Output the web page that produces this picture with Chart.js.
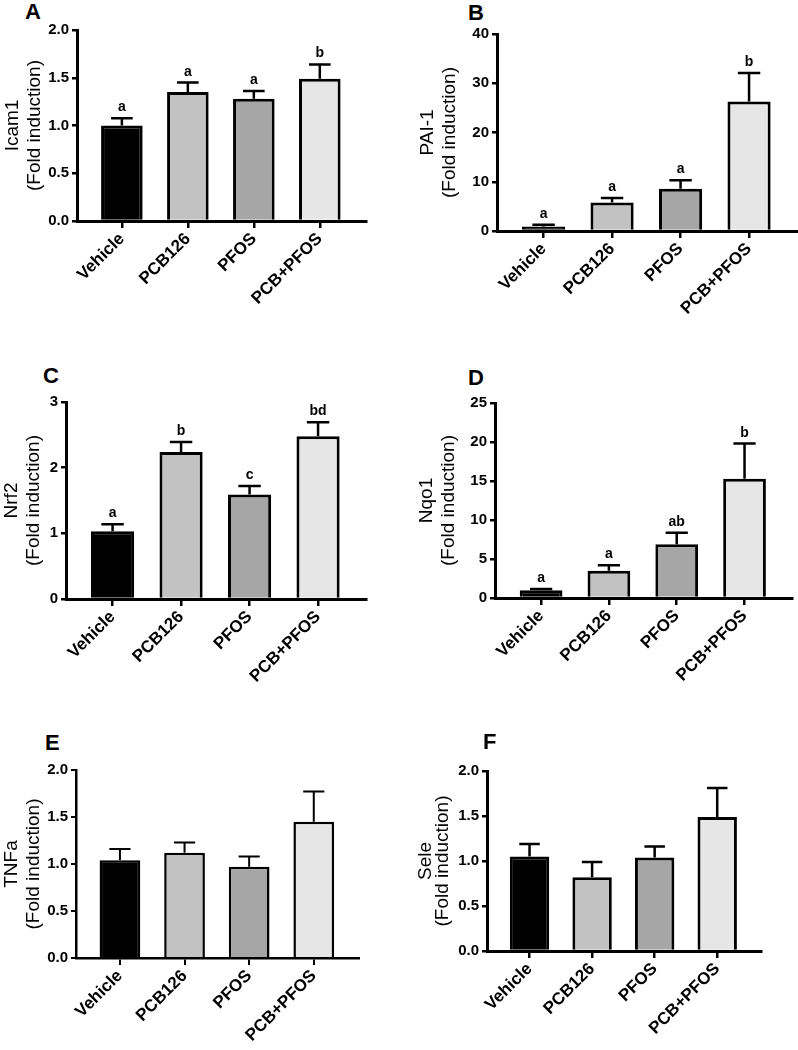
<!DOCTYPE html>
<html>
<head>
<meta charset="utf-8">
<script src="https://cdn.jsdelivr.net/npm/chart.js@4.4.1/dist/chart.umd.min.js"></script>
<style>
  body { margin: 0; background: #fff; width: 798px; height: 1050px; position: relative; overflow: hidden; font-family: "Liberation Sans", Arial, sans-serif; }
  canvas { position: absolute; }
  .letra { position: absolute; font-weight: bold; font-size: 22px; line-height: 22px; color: #000; }
</style>
</head>
<body>
<script>
  // dados
  var grupos = ['Vehicle', 'PCB126', 'PFOS', 'PCB+PFOS']
  var cores = ['#000000', '#c2c2c2', '#a6a6a6', '#e6e6e6']

  var icam1 = [1.00, 1.35, 1.28, 1.49]
  var icam1_erro = [0.075, 0.10, 0.08, 0.15]
  var icam1_letras = ['a', 'a', 'a', 'b']

  var pai1 = [0.9, 5.8, 8.6, 26.3]
  var pai1_erro = [0.35, 0.9, 1.7, 5.8]
  var pai1_letras = ['a', 'a', 'a', 'b']

  var nrf2 = [1.03, 2.24, 1.59, 2.48]
  var nrf2_erro = [0.11, 0.15, 0.13, 0.21]
  var nrf2_letras = ['a', 'b', 'c', 'bd']

  var nqo1 = [1.0, 3.5, 6.9, 15.3]
  var nqo1_erro = [0.15, 0.7, 1.45, 4.5]
  var nqo1_letras = ['a', 'a', 'ab', 'b']

  var tnfa = [1.04, 1.12, 0.97, 1.45]
  var tnfa_erro = [0.12, 0.11, 0.11, 0.32]

  var sele = [1.05, 0.82, 1.04, 1.49]
  var sele_erro = [0.14, 0.17, 0.12, 0.32]

  var fonte = '"Liberation Sans", Arial, sans-serif'

  // caixa do canvas [x, y, w, h] e area do grafico [esq, topo, dir, base]
  var paineis = [
    { letra: 'A', pos: [25, 1], canvas: [0, 0, 399, 360], area: [77, 30, 366, 221], nome: 'Icam1', media: icam1, erro: icam1_erro, letras: icam1_letras, max: 2, passo: 0.5, casas: 1, tPad: 1, tLinha: 1.2, linha: 2.5 },
    { letra: 'B', pos: [468, 2], canvas: [399, 0, 399, 360], area: [497, 34, 797, 231], nome: 'PAI-1', media: pai1, erro: pai1_erro, letras: pai1_letras, max: 40, passo: 10, casas: 0, tPad: 17, tLinha: 1.2, linha: 2.5 },
    { letra: 'C', pos: [43, 365], canvas: [0, 360, 399, 370], area: [66, 402, 366, 599], nome: 'Nrf2', media: nrf2, erro: nrf2_erro, letras: nrf2_letras, max: 3, passo: 1, casas: 0, tPad: 0, tLinha: 1.2, linha: 2.5 },
    { letra: 'D', pos: [468, 367], canvas: [399, 360, 399, 370], area: [495, 403, 792, 598], nome: 'Nqo1', media: nqo1, erro: nqo1_erro, letras: nqo1_letras, max: 25, passo: 5, casas: 0, tPad: 16, tLinha: 1.2, linha: 2.5 },
    { letra: 'E', pos: [45, 732], canvas: [0, 730, 399, 320], area: [76, 770, 359, 958], nome: 'TNFa', media: tnfa, erro: tnfa_erro, letras: null, max: 2, passo: 0.5, casas: 1, tPad: 0, tLinha: 1.2, linha: 2 },
    { letra: 'F', pos: [483, 731], canvas: [399, 730, 399, 320], area: [487, 771, 761, 951], nome: 'Sele', media: sele, erro: sele_erro, letras: null, max: 2, passo: 0.5, casas: 1, tPad: 18, tLinha: 0.9, linha: 2.5 }
  ]

  // barras de erro (so para cima) e letras de significancia
  const barrasErro = {
    id: 'barrasErro',
    afterDatasetsDraw(chart) {
      const ctx = chart.ctx
      const ds = chart.data.datasets[0]
      const escalaY = chart.scales.y
      chart.getDatasetMeta(0).data.forEach(function (bar, i) {
        var yTopo = escalaY.getPixelForValue(ds.media[i] + ds.erro[i])
        var meia = bar.width * 0.26
        ctx.save()
        ctx.strokeStyle = '#000'
        ctx.lineWidth = ds.linhaErro
        ctx.beginPath()
        ctx.moveTo(bar.x, bar.y)
        ctx.lineTo(bar.x, yTopo)
        ctx.moveTo(bar.x - meia, yTopo)
        ctx.lineTo(bar.x + meia, yTopo)
        ctx.stroke()
        if (ds.letras) {
          ctx.fillStyle = '#000'
          ctx.font = 'bold 14px ' + fonte
          ctx.textAlign = 'center'
          ctx.textBaseline = 'alphabetic'
          ctx.fillText(ds.letras[i], bar.x, yTopo - 7)
        }
        ctx.restore()
      })
    }
  }

  paineis.forEach(function (p) {
    var tag = document.createElement('div')
    tag.className = 'letra'
    tag.style.left = p.pos[0] + 'px'
    tag.style.top = p.pos[1] + 'px'
    tag.textContent = p.letra
    document.body.appendChild(tag)

    var cv = document.createElement('canvas')
    cv.width = p.canvas[2]
    cv.height = p.canvas[3]
    cv.style.left = p.canvas[0] + 'px'
    cv.style.top = p.canvas[1] + 'px'
    document.body.appendChild(cv)

    var larguraY = p.area[0] - p.canvas[0]
    var alturaX = p.canvas[1] + p.canvas[3] - p.area[3]

    new Chart(cv, {
      type: 'bar',
      data: {
        datasets: [{
          data: p.media.map(function (v, i) { return { x: i, y: v } }),
          backgroundColor: cores,
          borderColor: '#000',
          borderWidth: p.linha + 0.5,
          barPercentage: 0.63,
          categoryPercentage: 1,
          media: p.media,
          erro: p.erro,
          letras: p.letras,
          linhaErro: p.linha
        }]
      },
      options: {
        responsive: false,
        animation: false,
        layout: {
          padding: { left: 0, top: p.area[1] - p.canvas[1], right: p.canvas[0] + p.canvas[2] - p.area[2], bottom: 0 }
        },
        plugins: { legend: { display: false }, tooltip: { enabled: false } },
        scales: {
          x: {
            type: 'linear',
            offset: false,
            min: -0.68,
            max: 3.7,
            afterBuildTicks: function (s) { s.ticks = grupos.map(function (g, i) { return { value: i } }) },
            afterFit: function (s) { s.height = alturaX },
            ticks: {
              autoSkip: false,
              minRotation: 45,
              maxRotation: 45,
              padding: 1,
              color: '#000',
              font: { family: fonte, size: 17, weight: 'bold' },
              callback: function (v) { return grupos[v] }
            },
            grid: { offset: false, drawOnChartArea: false, drawTicks: true, tickLength: 7, color: '#000', lineWidth: p.linha },
            border: { display: true, color: '#000', width: p.linha + 0.5 }
          },
          y: {
            min: 0,
            max: p.max,
            afterFit: function (s) { s.width = larguraY },
            ticks: {
              stepSize: p.passo,
              padding: 3,
              color: '#000',
              font: { family: fonte, size: 15, weight: 'bold' },
              callback: function (v) { return v.toFixed(p.casas) }
            },
            grid: { drawOnChartArea: false, drawTicks: true, tickLength: 5, color: '#000', lineWidth: p.linha },
            border: { display: true, color: '#000', width: p.linha + 0.5 },
            title: {
              display: true,
              text: [p.nome, '(Fold induction)'],
              color: '#000',
              font: { family: fonte, size: 19, lineHeight: p.tLinha },
              padding: { top: p.tPad, bottom: 0 }
            }
          }
        }
      },
      plugins: [barrasErro]
    })
  })
</script>
</body>
</html>
